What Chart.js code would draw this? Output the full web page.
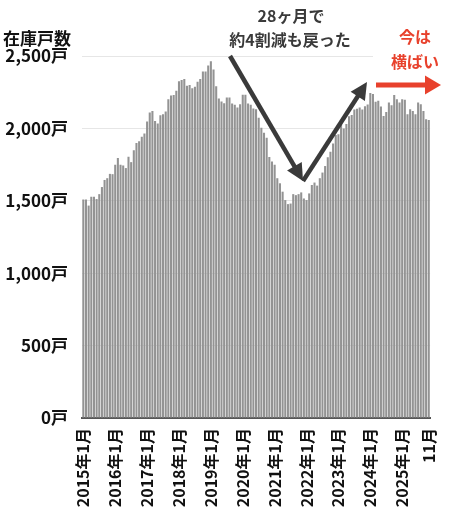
<!DOCTYPE html>
<html><head><meta charset="utf-8">
<script src="https://cdn.jsdelivr.net/npm/chart.js@4.4.1/dist/chart.umd.min.js"></script>
<style>html,body{margin:0;padding:0;background:#fff;}#wrap{width:450px;height:518px;}</style>
</head><body><div id="wrap"><canvas id="c" width="450" height="518"></canvas></div>
<script>
// Months 2015-01 .. 2025-11
const startYear = 2015;
const monthCount = 131;
const months = [];
for (let i = 0; i < monthCount; i++) {
  const y = startYear + Math.floor(i / 12), m = (i % 12) + 1;
  months.push(y + '年' + m + '月');
}
// Inventory (units)
const inventory = [
  1509,1509,1467,1528,1528,1512,1546,1595,1644,1656,1686,1684,
  1749,1795,1749,1744,1726,1805,1767,1849,1900,1912,1942,1965,
  2047,2109,2121,2051,2033,2091,2098,2116,2202,2228,2230,2260,
  2326,2335,2342,2295,2300,2277,2288,2323,2342,2393,2393,2435,
  2463,2407,2291,2207,2186,2174,2214,2214,2172,2163,2144,2167,
  2233,2233,2172,2163,2137,2133,2074,2005,1970,1935,1802,1772,
  1749,1656,1621,1563,1505,1477,1481,1546,1539,1546,1558,1516,
  1505,1551,1609,1626,1605,1656,1695,1740,1800,1838,1896,1954,
  1960,2039,2000,2030,2084,2092,2130,2136,2145,2130,2153,2165,
  2245,2237,2184,2191,2151,2086,2114,2179,2160,2230,2202,2179,
  2202,2198,2098,2133,2121,2098,2179,2167,2121,2063,2058
];
const yTicks = [0, 500, 1000, 1500, 2000, 2500];
const FONT = '"Noto Sans CJK JP", "Noto Sans", sans-serif';

function arrow(ctx, x1, y1, x2, y2, color, lw, hl, hw) {
  const dx = x2 - x1, dy = y2 - y1, L = Math.hypot(dx, dy);
  const ux = dx / L, uy = dy / L, px = -uy, py = ux;
  const bx = x2 - ux * hl, by = y2 - uy * hl;
  ctx.strokeStyle = color; ctx.fillStyle = color; ctx.lineWidth = lw; ctx.lineCap = 'butt';
  ctx.beginPath(); ctx.moveTo(x1, y1); ctx.lineTo(bx + ux * 1, by + uy * 1); ctx.stroke();
  ctx.beginPath(); ctx.moveTo(x2, y2);
  ctx.lineTo(bx + px * hw / 2, by + py * hw / 2);
  ctx.lineTo(bx - px * hw / 2, by - py * hw / 2);
  ctx.closePath(); ctx.fill();
}

const annot = {
  id: 'annot',
  beforeDatasetsDraw(chart) {
    const ctx = chart.ctx;
    ctx.save();
    ctx.fillStyle = '#fff';
    ctx.fillRect(373, 20, 77, 50);
    ctx.restore();
  },
  afterDatasetsDraw(chart) {
    const ctx = chart.ctx;
    ctx.save();
    arrow(ctx, 230, 56, 303, 181, '#3a3a3a', 4.5, 17, 17);
    arrow(ctx, 303, 181, 367, 82, '#3a3a3a', 4.5, 17, 17);
    arrow(ctx, 376, 85, 441, 85, '#e8412c', 5, 16, 19);
    ctx.textAlign = 'center'; ctx.textBaseline = 'middle';
    ctx.font = 'bold 16px ' + FONT;
    ctx.fillStyle = '#3a3a3a';
    ctx.fillText('28ヶ月で', 291, 16);
    ctx.fillText('約4割減も戻った', 290, 40);
    ctx.fillStyle = '#e8412c';
    ctx.fillText('今は', 415, 37);
    ctx.fillText('横ばい', 415, 62);
    ctx.textAlign = 'left';
    ctx.fillStyle = '#111';
    ctx.font = 'bold 17px ' + FONT;
    ctx.fillText('在庫戸数', 3, 39);
    ctx.restore();
  }
};

new Chart(document.getElementById('c'), {
  type: 'bar',
  data: {
    labels: months,
    datasets: [{
      data: inventory,
      backgroundColor: '#939393',
      borderWidth: 0,
      barPercentage: 0.78,
      categoryPercentage: 1.0
    }]
  },
  options: {
    responsive: false,
    animation: false,
    devicePixelRatio: 1,
    layout: { padding: { top: 56, right: 12, left: 0, bottom: 0 } },
    plugins: { legend: { display: false }, tooltip: { enabled: false } },
    scales: {
      x: {
        grid: { display: false },
        border: { display: true, color: '#555', width: 2 },
        ticks: {
          autoSkip: false, maxRotation: 90, minRotation: 90, padding: 2,
          color: '#111', font: { family: FONT, size: 16, weight: 'bold' },
          callback: function (v, i) {
            if (i === monthCount - 1) return (i % 12 + 1) + '月';
            return i % 12 === 0 ? months[i] : '';
          }
        },
        afterFit(s) { s.height = 100; }
      },
      y: {
        min: 0, max: 2500,
        afterBuildTicks(s) { s.ticks = yTicks.map(v => ({ value: v })); },
        grid: { color: '#e6e6e6', lineWidth: 1, drawTicks: false },
        border: { display: false },
        ticks: {
          padding: 14, color: '#111', font: { family: FONT, size: 17, weight: 'bold' },
          callback: v => v.toLocaleString('en-US') + '戸'
        },
        afterFit(s) { s.width = 82; }
      }
    }
  },
  plugins: [annot]
});
</script></body></html>
